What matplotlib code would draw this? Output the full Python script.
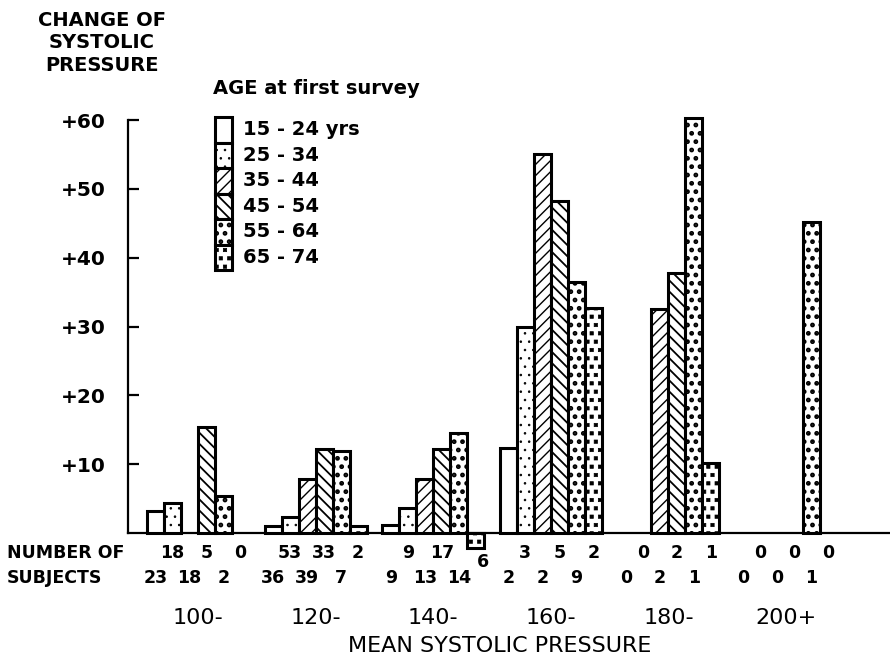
import matplotlib
matplotlib.use("Agg")
import matplotlib.pyplot as plt
import numpy as np
from matplotlib import hatch as mhatch
from matplotlib.patches import Rectangle
from matplotlib.path import Path


GROUPS = ["100-", "120-", "140-", "160-", "180-", "200+"]
AGE_BANDS = ["15 - 24 yrs", "25 - 34", "35 - 44", "45 - 54", "55 - 64", "65 - 74"]
Y_TICKS = [10, 20, 30, 40, 50, 60]

# change of systolic pressure per age band (nan = no bar drawn)
change_15_24 = [3.2, 1.0, 1.2, 12.3, np.nan, np.nan]
change_25_34 = [4.4, 2.3, 3.6, 30.0, np.nan, np.nan]
change_35_44 = [0.0, 7.8, 7.8, 55.0, 32.6, np.nan]
change_45_54 = [15.4, 12.2, 12.2, 48.3, 37.7, np.nan]
change_55_64 = [5.4, 11.9, 14.5, 36.5, 60.3, 45.2]
change_65_74 = [np.nan, 1.0, -2.2, 32.7, 10.2, np.nan]

# number of subjects per age band
n_15_24 = [23, 36, 9, 2, 0, 0]
n_25_34 = [18, 53, 9, 3, 0, 0]
n_35_44 = [18, 39, 13, 2, 2, 0]
n_45_54 = [5, 33, 17, 5, 2, 0]
n_55_64 = [2, 7, 14, 9, 1, 1]
n_65_74 = [0, 2, 6, 2, 1, 0]

CHANGES = [change_15_24, change_25_34, change_35_44,
           change_45_54, change_55_64, change_65_74]
COUNTS = [n_15_24, n_25_34, n_35_44, n_45_54, n_55_64, n_65_74]

HATCHES = ["", "..", "///", "\\\\\\", "..", "**"]
HATCH_LW = [1.0, 0.6, 1.0, 1.3, 2.2, 0.5]

FONT = "DejaVu Sans"


class SquareDots(mhatch.Shapes):
    # small filled squares, used in place of the star hatch ("*")
    size = 0.2
    filled = True

    def __init__(self, hatch, density):
        self.num_rows = hatch.count("*") * density
        self.shape_vertices = np.array(
            [[-1, -1], [1, -1], [1, 1], [-1, 1], [-1, -1]], dtype=float)
        self.shape_codes = np.array(
            [Path.MOVETO, Path.LINETO, Path.LINETO, Path.LINETO, Path.CLOSEPOLY],
            dtype=Path.code_type)
        super().__init__(hatch, density)


mhatch._hatch_types = [
    t for t in mhatch._hatch_types if t is not mhatch.Stars
] + [SquareDots]


def set_hatch_lw(patch, lw):
    if hasattr(patch, "set_hatch_linewidth"):
        patch.set_hatch_linewidth(lw)


def draw_bars(ax, x, width):
    for j, values in enumerate(CHANGES):
        values = np.asarray(values, dtype=float)
        keep = np.isfinite(values) & (values != 0)
        with plt.rc_context({"hatch.linewidth": HATCH_LW[j]}):
            bars = ax.bar(
                x[keep] + (j - 2.5) * width,
                values[keep],
                width,
                color="white",
                edgecolor="black",
                linewidth=2.2,
                hatch=HATCHES[j],
                clip_on=False,
                zorder=3,
            )
        for b in bars:
            set_hatch_lw(b, HATCH_LW[j])


def draw_counts(ax, x, width):
    for j, counts in enumerate(COUNTS):
        for i, n in enumerate(counts):
            xpos = x[i] + (j - 2.5) * width
            ypos = -2.9 if j % 2 == 1 else -6.5
            value = CHANGES[j][i]
            if np.isfinite(value) and value < 0:
                # label sits just under the negative bar
                xpos += 0.06
                ypos = value - 2.0
            ax.text(xpos, ypos, str(n), ha="center", va="center",
                    fontsize=12.5, fontweight="bold", family=FONT)


def draw_legend(fig):
    x0 = 215 / 890
    w = 17 / 890
    h = 25.5 / 659
    top = 1 - 117 / 659
    for j, label in enumerate(AGE_BANDS):
        with plt.rc_context({"hatch.linewidth": HATCH_LW[j]}):
            rect = Rectangle((x0, top - (j + 1) * h), w, h,
                             transform=fig.transFigure,
                             facecolor="white", edgecolor="black",
                             linewidth=2.2, hatch=HATCHES[j])
        set_hatch_lw(rect, HATCH_LW[j])
        fig.add_artist(rect)
        fig.text(243 / 890, top - (j + 0.5) * h, label, ha="left", va="center",
                 fontsize=14, fontweight="bold", family=FONT)

    fig.text(213 / 890, 1 - 89 / 659, "AGE at first survey", ha="left",
             va="center", fontsize=14, fontweight="bold", family=FONT)


def main():
    fig = plt.figure(figsize=(8.9, 6.59), dpi=100)
    ax = fig.add_axes([128 / 890, 126 / 659, 762 / 890, 413 / 659])

    x = np.arange(len(GROUPS), dtype=float)
    width = 17 / 117.6

    draw_bars(ax, x, width)
    draw_counts(ax, x, width)

    ax.set_xlim(-0.595, 5.884)
    ax.set_ylim(0, 60)

    for side in ["top", "right"]:
        ax.spines[side].set_visible(False)
    ax.spines["left"].set_linewidth(1.6)
    ax.spines["bottom"].set_linewidth(1.6)

    ax.set_yticks(Y_TICKS)
    ax.set_yticklabels([f"+{v}" for v in Y_TICKS], fontsize=14.5,
                       fontweight="bold", family=FONT)
    ax.tick_params(axis="y", direction="in", length=8, width=1.6, pad=16)

    ax.set_xticks(x)
    ax.set_xticklabels(GROUPS, fontsize=16, family=FONT)
    ax.tick_params(axis="x", length=0, pad=54)

    ax.set_xlabel("MEAN SYSTOLIC PRESSURE", fontsize=16, family=FONT)
    ax.xaxis.set_label_coords(372 / 762, -0.25)

    fig.text(102 / 890, 1 - 43 / 659, "CHANGE OF\nSYSTOLIC\nPRESSURE",
             ha="center", va="center", multialignment="center",
             linespacing=1.25, fontsize=14, fontweight="bold", family=FONT)

    fig.text(7 / 890, 1 - 553 / 659, "NUMBER OF", ha="left", va="center",
             fontsize=12.5, fontweight="bold", family=FONT)
    fig.text(7 / 890, 1 - 578 / 659, "SUBJECTS", ha="left", va="center",
             fontsize=12.5, fontweight="bold", family=FONT)

    draw_legend(fig)

    fig.savefig("out.png", dpi=100, facecolor="white")
    plt.close(fig)


if __name__ == "__main__":
    main()
